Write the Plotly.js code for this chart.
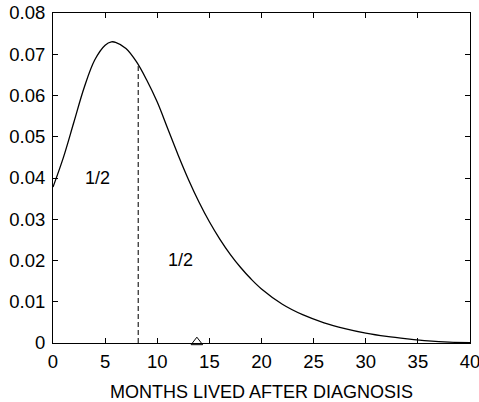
<!DOCTYPE html>
<html><head><meta charset="utf-8">
<script src="https://cdn.plot.ly/plotly-3.0.1.min.js"></script>
<style>html,body{margin:0;padding:0;background:#fff}</style>
</head><body>
<div id="chart" style="width:479px;height:402px"></div>
<script>
const months = [0,1,2,3,4,5,5.6,6,7,8,9,10,11,12,13,14,15,16,17,18,19,20,22,24,26,28,30,32,34,36,38,40];
const density = [0.0378,0.0450,0.0535,0.0620,0.0686,0.0722,0.0730,0.0729,0.0714,0.0682,0.0637,0.0584,0.0520,0.0456,0.0396,0.0342,0.0294,0.0252,0.0215,0.0183,0.0155,0.0131,0.0094,0.0068,0.0049,0.0035,0.0024,0.0016,0.0010,0.0005,0.0002,0.0001];
const medianX = [8.18, 8.18];
const medianY = [0, 0.0674];
const meanX = [13.8];
const meanY = [0.0002];
const halfLabels = ["1/2", "1/2"];
const halfX = [4.25, 12.27];
const halfY = [0.0400, 0.0201];
const xTicks = [0,5,10,15,20,25,30,35,40];
const yTicks = [0,0.01,0.02,0.03,0.04,0.05,0.06,0.07,0.08];
const yTickText = ["0","0.01","0.02","0.03","0.04","0.05","0.06","0.07","0.08"];

const font = {family: "Liberation Sans, Arial, sans-serif", size: 18.5, color: "#000"};
const traces = [
  {x: months, y: density, mode: "lines", line: {color: "#000", width: 1.3, shape: "spline", smoothing: 1}, hoverinfo: "none"},
  {x: medianX, y: medianY, mode: "lines", line: {color: "#444", width: 1.4, dash: "5px,3px"}, hoverinfo: "none"},
  {x: meanX, y: meanY, mode: "markers", marker: {symbol: "triangle-up-open", size: 10, color: "#000", line: {width: 1, color: "#000"}}, cliponaxis: false, hoverinfo: "none"}
];
const annotations = halfLabels.map((t, i) => ({x: halfX[i], y: halfY[i], text: t, showarrow: false, font: {family: font.family, size: 18, color: "#000"}, xanchor: "center", yanchor: "middle"}));
const axisCommon = {showline: true, linecolor: "#000", linewidth: 1, mirror: "ticks", ticks: "inside", ticklen: 5, tickcolor: "#000", showgrid: false, zeroline: false, tickfont: font, ticklabeloverflow: "allow"};
const layout = {
  width: 479, height: 402,
  margin: {l: 53, r: 9, t: 13, b: 59},
  paper_bgcolor: "#fff", plot_bgcolor: "#fff",
  showlegend: false,
  font: font,
  xaxis: Object.assign({}, axisCommon, {range: [0, 40], tickvals: xTicks, ticklabelstandoff: 2, title: {text: "MONTHS LIVED AFTER DIAGNOSIS", font: {family: font.family, size: 18, color: "#000"}, standoff: 16}}),
  yaxis: Object.assign({}, axisCommon, {range: [0, 0.08], tickvals: yTicks, ticktext: yTickText, ticklabelstandoff: 3}),
  annotations: annotations
};
Plotly.newPlot("chart", traces, layout, {staticPlot: true, displayModeBar: false});
</script>
</body></html>
